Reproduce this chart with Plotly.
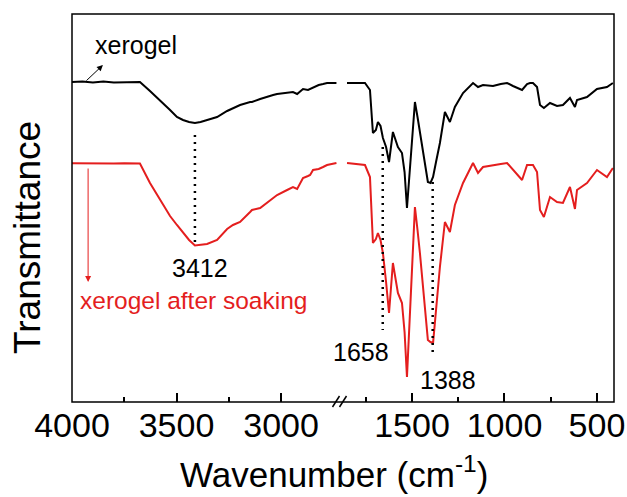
import plotly.graph_objects as go

# ---------------- data (transmittance in arbitrary units) ----------------
# high-wavenumber segment (4000 - 2735 cm-1)
wn_hi = [4000, 3950, 3900, 3850, 3800, 3750, 3700, 3675, 3627, 3579, 3531, 3498, 3469,
         3440, 3412, 3385, 3354, 3306, 3258, 3230, 3196, 3148, 3139, 3100, 3060, 3038,
         3019, 2971, 2943, 2923, 2918, 2895, 2871, 2861, 2847, 2820, 2799, 2780, 2735]
xerogel_hi = [320, 320.5, 319.5, 320.5, 319.5, 320, 320.5, 320, 311, 302, 292, 285, 282,
              280, 279, 280, 282, 285, 291, 294, 297, 300, 300, 303, 306, 307,
              308, 309, 310, 308, 309, 313, 312, 313, 315, 317, 318, 319, 319]
soaked_hi = [238.7, 238.5, 238.9, 238.3, 238.5, 238.7, 238.4, 238.5, 219, 202, 186, 177, 169,
             162, 156.5, 157, 158, 162, 173, 177, 180, 190, 192, 194, 200, 204,
             207, 212, 215, 213, 215, 224, 226, 227, 232, 233, 235, 237, 239]

# low-wavenumber segment (1851 - 414 cm-1)
wn_lo = [1851, 1800, 1754, 1727, 1711, 1695, 1684, 1670, 1657, 1640, 1624, 1603, 1590, 1576,
         1554, 1540, 1527, 1505, 1484, 1470, 1457, 1414, 1400, 1386, 1370, 1349, 1322, 1295,
         1268, 1224, 1170, 1143, 1116, 1062, 1020, 986, 954, 905, 878, 862, 846, 824, 808,
         787, 754, 716, 684, 646, 619, 608, 554, 500, 446, 414]
xerogel_lo = [319, 319, 319, 312, 269, 272, 280, 276, 264, 255, 240, 270, 262, 255,
              249, 230, 194, 250, 300, 285, 269, 220, 219, 225, 240, 259, 290, 280,
              295, 309, 319, 315, 317, 316, 318, 319, 316, 312, 318, 319, 319, 315, 297,
              294, 299, 296, 297, 304, 295, 302, 305, 313, 315, 319]
soaked_lo = [239, 238, 237, 225, 159, 163, 169, 162, 149, 120, 89, 139, 125, 109,
             99, 70, 25, 110, 195, 172, 149, 62, 60, 59, 95, 135, 180, 170,
             197, 219, 239, 229, 235, 237, 238, 239, 232, 222, 237, 237, 237, 230, 192,
             185, 205, 200, 199, 215, 193, 212, 219, 232, 225, 234]

ticks_hi = [4000, 3500, 3000]
minor_hi = [3750, 3250]
ticks_lo = [1500, 1000, 500]
minor_lo = [1750, 1250, 750]

peaks_hi = [3412]
peaks_lo = [1658, 1388]

BLACK = "#000000"
RED = "#e41e1e"
FONT = "Liberation Sans, Arial, sans-serif"

fig = go.Figure()
fig.add_trace(go.Scatter(x=wn_hi, y=xerogel_hi, mode="lines", xaxis="x", yaxis="y",
                         line=dict(color=BLACK, width=2), showlegend=False))
fig.add_trace(go.Scatter(x=wn_hi, y=soaked_hi, mode="lines", xaxis="x", yaxis="y",
                         line=dict(color=RED, width=2), showlegend=False))
fig.add_trace(go.Scatter(x=wn_lo, y=xerogel_lo, mode="lines", xaxis="x2", yaxis="y",
                         line=dict(color=BLACK, width=2), showlegend=False))
fig.add_trace(go.Scatter(x=wn_lo, y=soaked_lo, mode="lines", xaxis="x2", yaxis="y",
                         line=dict(color=RED, width=2), showlegend=False))

split = 268 / 542
axis_common = dict(showgrid=False, zeroline=False, showline=False, ticks="inside",
                   ticklen=9, tickwidth=1.5, tickcolor=BLACK, automargin=False,
                   tickfont=dict(family=FONT, size=34, color=BLACK), anchor="y")
fig.update_layout(
    width=627, height=497,
    margin=dict(l=72, r=13, t=14, b=95, autoexpand=False),
    paper_bgcolor="white", plot_bgcolor="white",
    xaxis=dict(domain=[0, split], range=[4000, 2718], tickmode="array", tickvals=ticks_hi,
               minor=dict(tickmode="array", tickvals=minor_hi, ticks="inside", ticklen=5,
                          tickwidth=1.5, tickcolor=BLACK), **axis_common),
    xaxis2=dict(domain=[split, 1], range=[1889, 408], tickmode="array", tickvals=ticks_lo,
                minor=dict(tickmode="array", tickvals=minor_lo, ticks="inside", ticklen=5,
                           tickwidth=1.5, tickcolor=BLACK), **axis_common),
    yaxis=dict(domain=[0, 1], range=[0, 388], showticklabels=False, ticks="",
               showgrid=False, zeroline=False, showline=False, automargin=False),
)

# frame
fig.add_shape(type="rect", xref="paper", yref="paper", x0=0, x1=1, y0=0, y1=1,
              line=dict(color=BLACK, width=1.5))
# axis break marks
for dx in (-4, 3):
    fig.add_shape(type="line", xref="paper", yref="paper",
                  x0=split + (dx - 3.5) / 542, x1=split + (dx + 3.5) / 542,
                  y0=-5 / 388, y1=6 / 388, line=dict(color=BLACK, width=1.5))

# dotted peak markers
dot = dict(color=BLACK, width=2.5, dash="2px,5px")
fig.add_shape(type="line", xref="x", yref="y", x0=peaks_hi[0], x1=peaks_hi[0],
              y0=267, y1=160, line=dot)
fig.add_shape(type="line", xref="x2", yref="y", x0=peaks_lo[0], x1=peaks_lo[0],
              y0=255, y1=72, line=dot)
fig.add_shape(type="line", xref="x2", yref="y", x0=peaks_lo[1], x1=peaks_lo[1],
              y0=220, y1=45, line=dot)

ann_font = dict(family=FONT, size=25, color=BLACK)
fig.add_annotation(x=3388, y=134, xref="x", yref="y", text=str(peaks_hi[0]),
                   showarrow=False, font=ann_font)
fig.add_annotation(x=1776, y=50, xref="x2", yref="y", text=str(peaks_lo[0]),
                   showarrow=False, font=ann_font)
fig.add_annotation(x=1305, y=22, xref="x2", yref="y", text=str(peaks_lo[1]),
                   showarrow=False, font=ann_font)

# series labels with arrows
fig.add_annotation(x=3694, y=357, xref="x", yref="y", text="xerogel", showarrow=False,
                   font=dict(family=FONT, size=25, color=BLACK))
fig.add_annotation(x=3852, y=337, ax=3938, ay=320, xref="x", yref="y", axref="x", ayref="y",
                   text="", showarrow=True, arrowhead=2, arrowsize=1.2, arrowwidth=1,
                   arrowcolor=BLACK)
fig.add_annotation(x=3971, y=102, xref="x", yref="y", xanchor="left",
                   text="xerogel after soaking", showarrow=False,
                   font=dict(family=FONT, size=24.5, color=RED))
fig.add_annotation(x=3923, y=120, ax=3923, ay=235, xref="x", yref="y", axref="x", ayref="y",
                   text="", showarrow=True, arrowhead=2, arrowsize=1.2, arrowwidth=1,
                   arrowcolor=RED)

# axis titles
fig.add_annotation(x=-44 / 542, y=164 / 388, xref="paper", yref="paper", text="Transmittance",
                   textangle=-90, showarrow=False, xanchor="center", yanchor="middle",
                   font=dict(family=FONT, size=37, color=BLACK))
fig.add_annotation(x=262 / 542, y=-70 / 388, xref="paper", yref="paper",
                   text="Wavenumber (cm<sup>-1</sup>)", showarrow=False,
                   xanchor="center", yanchor="middle",
                   font=dict(family=FONT, size=35, color=BLACK))

fig.write_html("out.html")
